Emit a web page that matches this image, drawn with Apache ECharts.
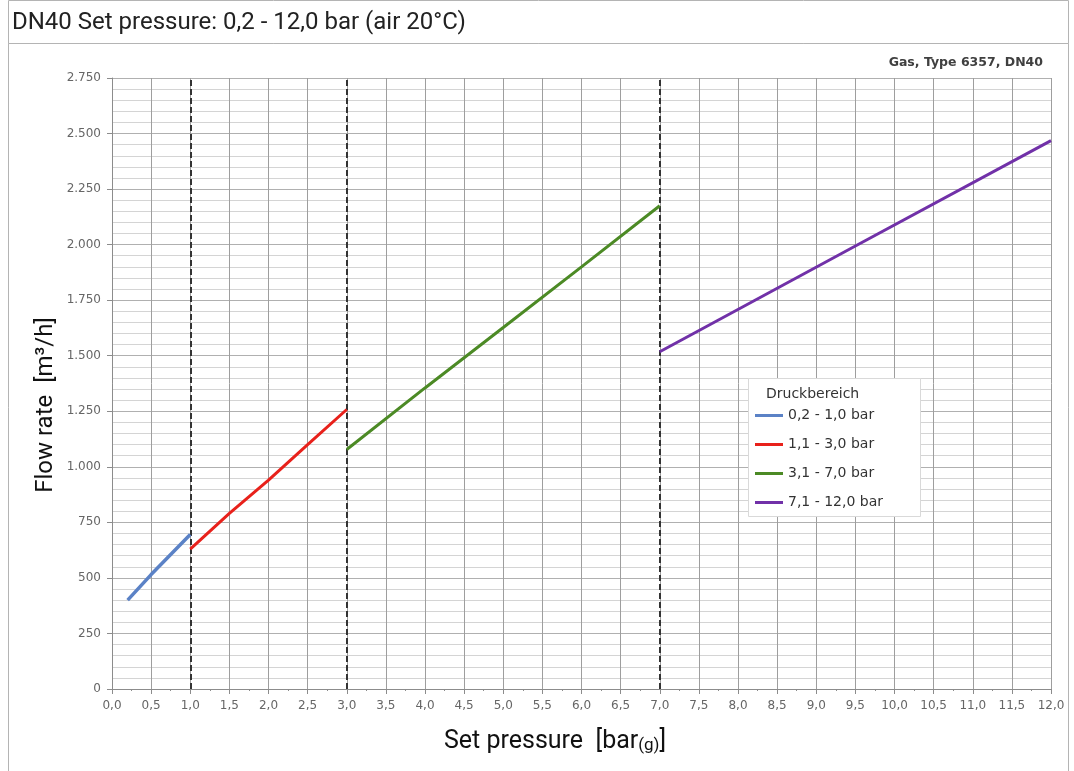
<!DOCTYPE html>
<html>
<head>
<meta charset="utf-8">
<script src="https://cdn.jsdelivr.net/npm/echarts@6/dist/echarts.min.js"></script>
<style>
  html, body { margin: 0; padding: 0; background: #fff; }
  #chart { width: 1074px; height: 771px; }
</style>
</head>
<body>
<div id="chart"></div>
<script>
// Druckbereiche (Set pressure [bar], Flow rate [m3/h])
const range1 = [[0.2, 400], [0.5, 515], [1.0, 695]]
const range2 = [[1.0, 630], [1.5, 790], [2.0, 940], [2.5, 1100], [3.0, 1258]]
const range3 = [[3.0, 1078], [4.0, 1355], [5.0, 1627], [6.0, 1900], [7.0, 2175]]
const range4 = [[7.0, 1518], [9.5, 1994], [12.0, 2468]]
const rangeNames = ['0,2 - 1,0 bar', '1,1 - 3,0 bar', '3,1 - 7,0 bar', '7,1 - 12,0 bar']
const rangeColors = ['#5b82c6', '#e8211b', '#4c8a25', '#7131a8']
const boundaries = [1, 3, 7]

const chart = echarts.init(document.getElementById('chart'))

const tickFont = 'DejaVu Sans, Liberation Sans, sans-serif'

function makeSeries(name, data, color, width) {
  return {
    name: name,
    type: 'line',
    data: data,
    symbol: 'none',
    smooth: false,
    lineStyle: { color: color, width: width },
    itemStyle: { color: color },
    z: 5
  }
}

const series = [
  makeSeries(rangeNames[0], range1, rangeColors[0], 3.5),
  makeSeries(rangeNames[1], range2, rangeColors[1], 3),
  makeSeries(rangeNames[2], range3, rangeColors[2], 3),
  makeSeries(rangeNames[3], range4, rangeColors[3], 3)
]
// gestrichelte Grenzen
series[0].markLine = {
  silent: true,
  symbol: 'none',
  label: { show: false },
  lineStyle: { color: '#333', type: [6, 3], width: 2 },
  data: boundaries.map(b => ({ xAxis: b }))
}

chart.setOption({
  animation: false,
  textStyle: { fontFamily: 'Roboto, sans-serif' },
  grid: { left: 112, right: 23, top: 78, bottom: 82, containLabel: false },
  xAxis: {
    type: 'value',
    min: 0,
    max: 12,
    interval: 0.5,
    axisLine: { show: true, lineStyle: { color: '#8c8c8c', width: 1 } },
    axisTick: { show: true, length: 5, lineStyle: { color: '#8c8c8c' } },
    minorTick: { show: true, splitNumber: 2, length: 2, lineStyle: { color: '#8c8c8c' } },
    splitLine: { show: true, lineStyle: { color: '#9e9e9e', width: 1 } },
    axisLabel: {
      color: '#666',
      fontSize: 12,
      fontFamily: tickFont,
      margin: 11,
      formatter: v => v.toFixed(1).replace('.', ',')
    }
  },
  yAxis: {
    type: 'value',
    min: 0,
    max: 2750,
    interval: 250,
    axisLine: { show: true, lineStyle: { color: '#8c8c8c', width: 1 } },
    axisTick: { show: true, length: 5, lineStyle: { color: '#8c8c8c' } },
    minorTick: { show: false, splitNumber: 5 },
    splitLine: { show: true, lineStyle: { color: '#b0b0b0', width: 1 } },
    minorSplitLine: { show: true, lineStyle: { color: '#d4d4d4', width: 1 } },
    axisLabel: {
      color: '#666',
      fontSize: 12,
      fontFamily: tickFont,
      margin: 11,
      formatter: v => String(v).replace(/\B(?=(\d{3})+(?!\d))/g, '.')
    }
  },
  legend: {
    show: true,
    orient: 'vertical',
    left: 755,
    top: 408,
    z: 20,
    itemWidth: 28,
    itemHeight: 3,
    itemGap: 14,
    icon: 'rect',
    data: rangeNames,
    textStyle: { fontSize: 14, lineHeight: 15, color: '#333', fontFamily: tickFont },
    padding: 0
  },
  graphic: [
    // Rahmen
    { type: 'rect', shape: { x: 8.5, y: 0.5, width: 1060, height: 43 }, style: { fill: 'none', stroke: '#b4b4b4', lineWidth: 1 }, z: 0 },
    { type: 'rect', shape: { x: 8.5, y: 43.5, width: 1060, height: 740 }, style: { fill: 'none', stroke: '#b4b4b4', lineWidth: 1 }, z: 0 },
    {
      type: 'text', left: 12, top: 11,
      style: { text: 'DN40 Set pressure: 0,2 - 12,0 bar (air 20°C)', fontSize: 24, fill: '#222', fontFamily: 'Roboto, sans-serif' }
    },
    {
      type: 'text', right: 31, top: 56,
      style: { text: 'Gas, Type 6357, DN40', fontSize: 12.5, fontWeight: 'bold', fill: '#404040', fontFamily: tickFont }
    },
    // Achsentitel Y
    {
      type: 'text', x: 46, y: 405, rotation: Math.PI / 2,
      style: {
        text: 'Flow rate  [m³/h]', fontSize: 24, fill: '#111', fontFamily: 'Roboto, sans-serif',
        textAlign: 'center', textVerticalAlign: 'middle'
      }
    },
    // Legendenbox
    { type: 'rect', shape: { x: 748.5, y: 378.5, width: 172, height: 138 }, style: { fill: '#fff', stroke: '#d9d9d9', lineWidth: 1 }, z: 1 },
    {
      type: 'text', left: 766, top: 387, z: 2,
      style: { text: 'Druckbereich', fontSize: 14, fill: '#333', fontFamily: tickFont }
    },
    {
      type: 'text', left: 444, top: 729,
      style: {
        text: '{a|Set pressure  [bar}{s|(g)}{a|]}',
        rich: {
          a: { fontSize: 25, fill: '#111', fontFamily: 'Roboto, sans-serif' },
          s: { fontSize: 17, fill: '#111', fontFamily: 'Roboto, sans-serif', padding: [9, 0, 0, 0] }
        }
      }
    }
  ],
  series: series
})
</script>
</body>
</html>
